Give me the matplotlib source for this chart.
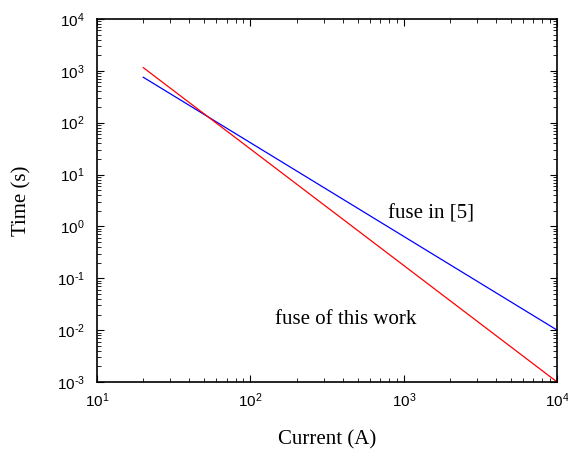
import matplotlib.pyplot as plt
from matplotlib.ticker import LogLocator, NullFormatter, FuncFormatter
import numpy as np

# fuse time-current curves (end points of straight lines on log-log axes)
current = [20, 10000]
t_this_work = [1150, 0.001]
t_ref5 = [750, 0.01]

plt.rcParams['font.family'] = ['Liberation Sans', 'DejaVu Sans']
plt.rcParams['mathtext.fontset'] = 'custom'
plt.rcParams['mathtext.rm'] = 'Liberation Sans'


def dec_label(v, pos):
    e = int(round(np.log10(v)))
    if e < 0:
        return r'$\mathregular{10^{\text{-}%d}}$' % (-e)
    return r'$\mathregular{10^{%d}}$' % e


fig = plt.figure(figsize=(5.68, 4.5), dpi=100)
ax = fig.add_axes([0.171, 0.151, 0.81, 0.807])

ax.loglog(current, t_ref5, color='blue', lw=0.9)
ax.loglog(current, t_this_work, color='red', lw=0.9)

ax.set_xlim(10, 1e4)
ax.set_ylim(1e-3, 1e4)

ax.xaxis.set_major_locator(LogLocator(base=10, numticks=10))
ax.yaxis.set_major_locator(LogLocator(base=10, numticks=10))
ax.xaxis.set_minor_locator(LogLocator(base=10, subs=range(2, 10), numticks=20))
ax.yaxis.set_minor_locator(LogLocator(base=10, subs=range(2, 10), numticks=20))
ax.xaxis.set_major_formatter(FuncFormatter(dec_label))
ax.yaxis.set_major_formatter(FuncFormatter(dec_label))
ax.xaxis.set_minor_formatter(NullFormatter())
ax.yaxis.set_minor_formatter(NullFormatter())

ax.tick_params(which='both', direction='in', top=True, right=True, labelsize=11)
ax.tick_params(which='major', length=5, width=0.8)
ax.tick_params(which='minor', length=3, width=0.6)
ax.tick_params(axis='x', pad=7)
ax.tick_params(axis='y', pad=9)
for s in ax.spines.values():
    s.set_linewidth(1.2)

serif = ['Liberation Serif', 'DejaVu Serif']
ax.set_xlabel('Current (A)', family=serif, fontsize=15, labelpad=14)
ax.set_ylabel('Time (s)', family=serif, fontsize=15, labelpad=18)

ax.text(790, 1.7, 'fuse in [5]', family=serif, fontsize=15, va='center',
        bbox=dict(facecolor='white', edgecolor='none', pad=0))
ax.text(145, 0.016, 'fuse of this work', family=serif, fontsize=15, va='center',
        bbox=dict(facecolor='white', edgecolor='none', pad=0))

fig.savefig('out.png', dpi=100)
